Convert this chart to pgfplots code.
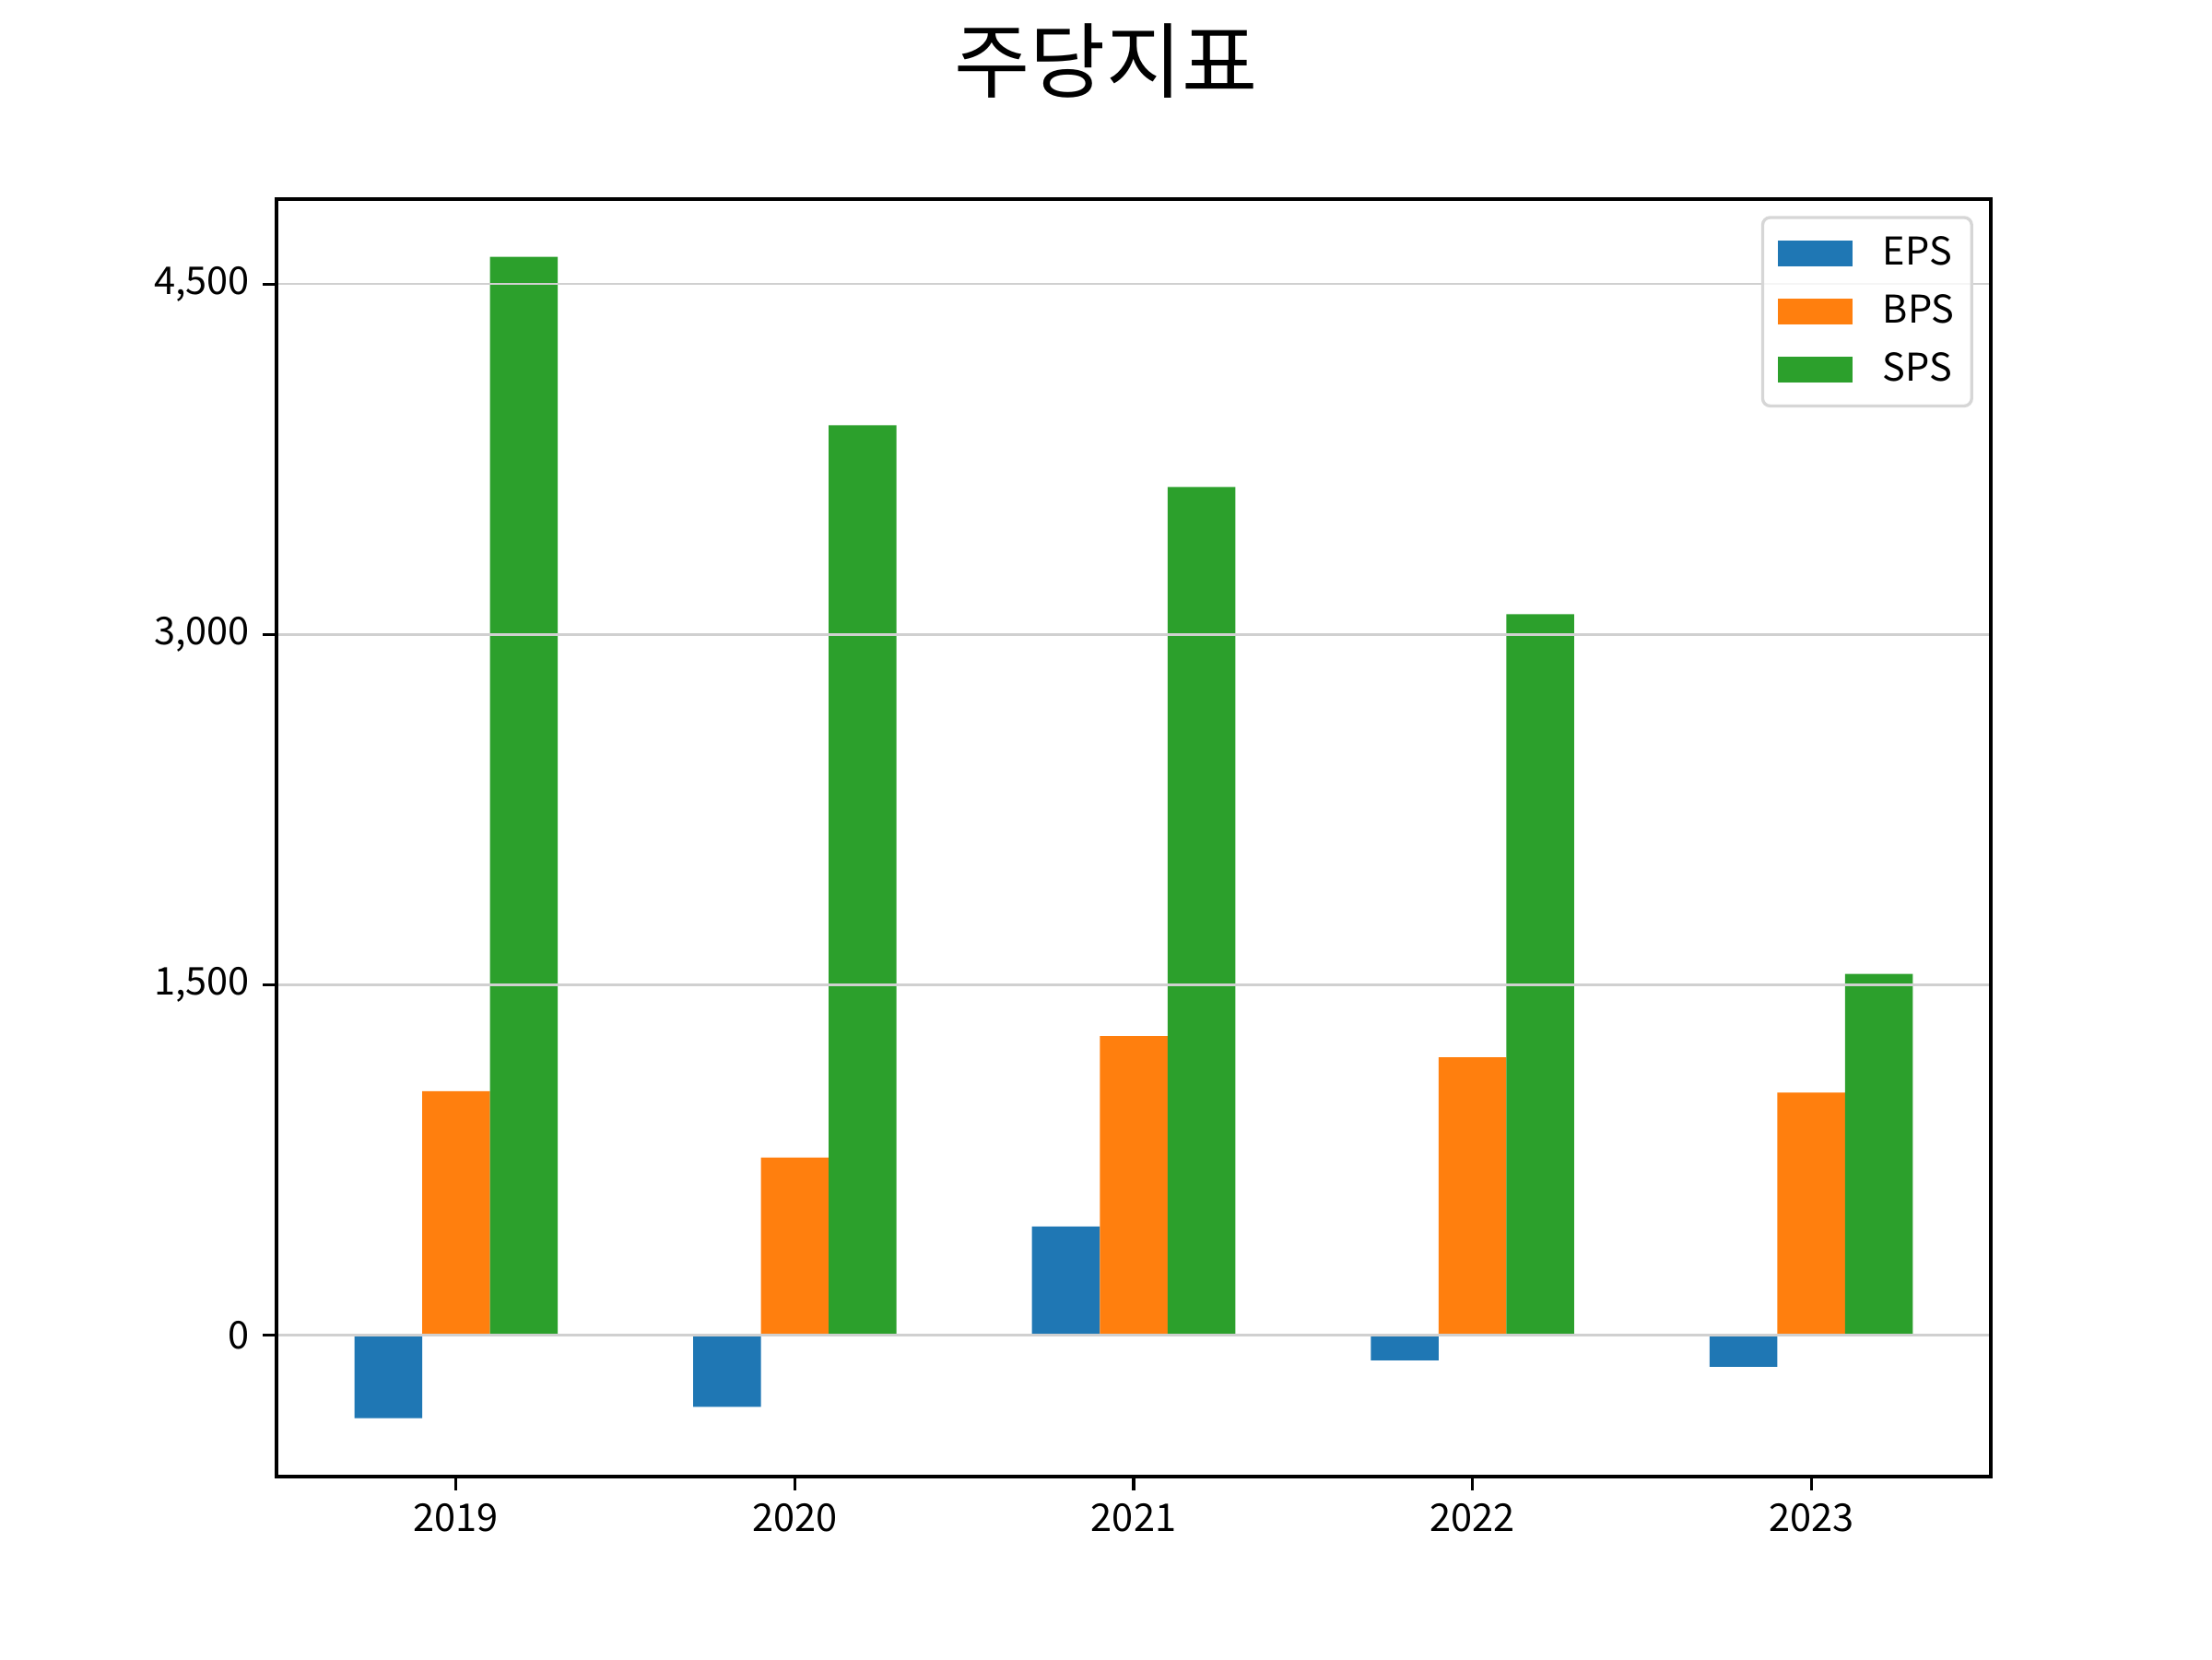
\documentclass[border=0pt]{standalone}
\usepackage{fontspec}
\setmainfont{Noto Sans CJK KR}
\usepackage{pgfplots}
\pgfplotsset{compat=1.18}
\definecolor{cEPS}{HTML}{1F77B4}
\definecolor{cBPS}{HTML}{FF7F0E}
\definecolor{cSPS}{HTML}{2CA02C}
\definecolor{gridc}{HTML}{D0D0D0}
\definecolor{legc}{HTML}{D6D6D6}
\begin{document}
\begin{tikzpicture}
\useasboundingbox (0,0) rectangle (8in,6in);
\node[font=\fontsize{21.5}{26}\selectfont] at (4in,5.78in) {주당지표};
\begin{axis}[
  at={(1in,0.66in)}, anchor=south west,
  scale only axis, width=6.2in, height=4.62in,
  xmin=-0.53, xmax=4.53, ymin=-605, ymax=4864,
  xtick={0,1,2,3,4}, xticklabels={2019,2020,2021,2022,2023},
  ytick={0,1500,3000,4500},
  /pgf/number format/assume math mode=true,
  /pgf/number format/1000 sep={,},
  scaled y ticks=false,
  tick label style={font=\fontsize{10}{12}\selectfont},
  tick align=outside, tick pos=left,
  major tick length=3.5pt,
  every tick/.style={black, line width=0.8pt},
  axis line style={line width=0.8pt},
  ymajorgrids, grid style={gridc, line width=0.6pt},
  axis on top,
  ybar, bar width=0.2,
  legend style={at={(1,1)}, anchor=north east, xshift=-4.6pt, yshift=-4.4pt,
    draw=legc, line width=0.8pt, rounded corners=2pt, fill=white, fill opacity=0.8, text opacity=1,
    font=\fontsize{10}{12}\selectfont, row sep=2.2pt, inner xsep=2.5pt, inner ysep=3pt},
  legend cell align=left,
  legend image code/.code={\fill[#1,fill opacity=1,sharp corners] (0pt,-3.4pt) rectangle (19.5pt,3.4pt); \path (-1.5pt,0pt) (25.4pt,0pt);},
]
\addplot[fill=cEPS, draw=none, bar shift=-0.2] coordinates {(0,-355) (1,-307) (2,466) (3,-107) (4,-135)};
\addplot[fill=cBPS, draw=none, bar shift=0] coordinates {(0,1045) (1,761) (2,1281) (3,1190) (4,1039)};
\addplot[fill=cSPS, draw=none, bar shift=0.2] coordinates {(0,4617) (1,3896) (2,3631) (3,3087) (4,1547)};
\legend{EPS,BPS,SPS}
\end{axis}
\end{tikzpicture}
\end{document}
